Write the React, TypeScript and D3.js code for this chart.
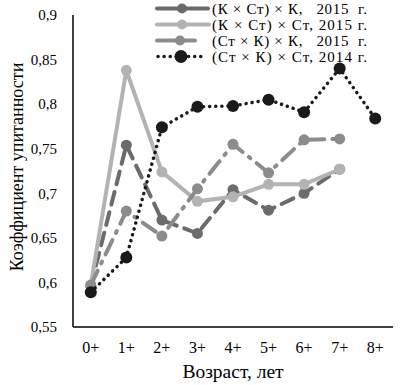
import * as d3 from "d3";

const ages = ["0+", "1+", "2+", "3+", "4+", "5+", "6+", "7+", "8+"];
const yTicks = [0.55, 0.6, 0.65, 0.7, 0.75, 0.8, 0.85, 0.9];

const kstK2015 = [0.596, 0.754, 0.67, 0.655, 0.704, 0.681, 0.7, 0.727];
const kstSt2015 = [0.597, 0.838, 0.724, 0.691, 0.696, 0.71, 0.71, 0.727];
const stkK2015 = [0.597, 0.68, 0.652, 0.705, 0.755, 0.723, 0.76, 0.761];
const stkSt2014 = [0.589, 0.628, 0.774, 0.797, 0.798, 0.805, 0.791, 0.84, 0.784];

const series = [
  { name: "(К × Ст) × К,   2015  г.", values: kstK2015, color: "#6b6b6b", dash: "13,8", width: 4, r: 5.5 },
  { name: "(К × Ст) × Ст, 2015 г.", values: kstSt2015, color: "#b3b3b3", dash: "", width: 4, r: 5.5 },
  { name: "(Ст × К) × К,   2015  г.", values: stkK2015, color: "#8c8c8c", dash: "16,8,2,8", width: 4, r: 5.5 },
  { name: "(Ст × К) × Ст, 2014 г.", values: stkSt2014, color: "#1a1a1a", dash: "0.1,6", width: 3.5, r: 6 },
];

// legend swatch extents
const legendLines = [
  [157, 208, 182],
  [157, 209, 182],
  [157, 195, 180],
  [158, 205, 181],
];

const W = 404;
const H = 385;
const m = { left: 73, right: 11, top: 15, bottom: 58 };

export default function App() {
  const x = d3.scaleBand<string>().domain(ages).range([m.left, W - m.right]);
  const y = d3.scaleLinear().domain([0.55, 0.9]).range([H - m.bottom, m.top]);
  const cx = (i: number) => (x(ages[i]) ?? 0) + x.bandwidth() / 2;
  const line = d3
    .line<number>()
    .x((_, i) => cx(i))
    .y((d) => y(d));
  const fmt = (v: number) => String(+v.toFixed(2)).replace(".", ",");
  const font = "'Liberation Serif', 'Times New Roman', serif";

  return (
    <svg
      width={W}
      height={H}
      style={{ position: "absolute", left: 0, top: 0, background: "#fff" }}
      fontFamily={font}
    >
      {/* axes */}
      <line x1={m.left} x2={m.left} y1={m.top} y2={H - m.bottom} stroke="#000" strokeWidth={1.5} />
      <line x1={m.left} x2={W - m.right} y1={H - m.bottom} y2={H - m.bottom} stroke="#000" strokeWidth={1.5} />
      {yTicks.map((t) => (
        <text key={t} x={m.left - 16} y={y(t)} dy="0.35em" textAnchor="end" fontSize={15}>
          {fmt(t)}
        </text>
      ))}
      {ages.map((a, i) => (
        <text key={a} x={cx(i)} y={353} textAnchor="middle" fontSize={16}>
          {a}
        </text>
      ))}
      <text x={233} y={378} textAnchor="middle" fontSize={19.5}>
        Возраст, лет
      </text>
      <text
        transform={`translate(23,167) rotate(-90)`}
        textAnchor="middle"
        fontSize={18}
      >
        Коэффициент упитанности
      </text>

      {/* series */}
      {series.map((s) => (
        <g key={s.name}>
          <path
            d={line(s.values) ?? ""}
            fill="none"
            stroke={s.color}
            strokeWidth={s.width}
            strokeDasharray={s.dash}
            strokeLinecap="round"
          />
          {s.values.map((v, i) => (
            <circle key={i} cx={cx(i)} cy={y(v)} r={s.r} fill={s.color} />
          ))}
        </g>
      ))}

      {/* legend */}
      {series.map((s, i) => {
        const ly = 8.5 + i * 16;
        const [x1, x2, c] = legendLines[i];
        return (
          <g key={s.name} transform={`translate(0,${ly})`}>
            <line
              x1={x1}
              x2={x2}
              y1={0}
              y2={0}
              stroke={s.color}
              strokeWidth={s.width}
              strokeDasharray={i === 3 ? s.dash : ""}
              strokeLinecap="round"
            />
            <circle cx={c} cy={0} r={i === 3 ? 6.5 : 5} fill={s.color} />
            <text
              x={212}
              y={0}
              dy="0.35em"
              fontSize={15}
              textLength={155}
              lengthAdjust="spacing"
              style={{ whiteSpace: "pre" }}
            >
              {s.name}
            </text>
          </g>
        );
      })}
    </svg>
  );
}
